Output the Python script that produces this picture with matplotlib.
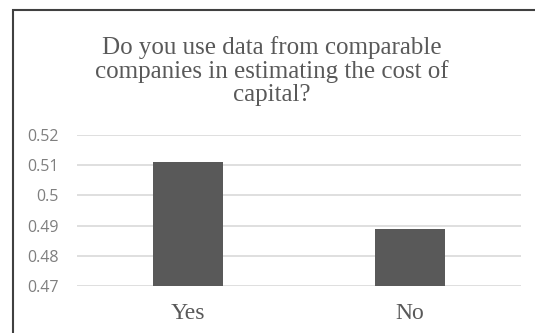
import matplotlib.pyplot as plt
from matplotlib.patches import Rectangle

categories = ["Yes", "No"]
shares = [0.511, 0.489]
y_ticks = [0.47, 0.48, 0.49, 0.50, 0.51, 0.52]
y_labels = ["0.47", "0.48", "0.49", "0.5", "0.51", "0.52"]

W, H = 535, 333
fig = plt.figure(figsize=(W / 100, H / 100), dpi=100)
ax = fig.add_axes([77 / W, (H - 286) / H, (521 - 77) / W, (286 - 135) / H])

x = range(len(categories))
ax.bar(x, shares, width=0.315, color="#595959", zorder=3)

ax.set_xlim(-0.5, 1.5)
ax.set_ylim(0.47, 0.52)
ax.set_yticks(y_ticks)
ax.set_yticklabels(y_labels, fontsize=11.5, color="#7f7f7f", family="Open Sans")
ax.set_xticks(list(x))
ax.set_xticklabels(categories, fontsize=17, color="#595959", family="Liberation Serif")
ax.tick_params(axis="y", length=0, pad=13)
ax.tick_params(axis="x", length=0, pad=12)

ax.grid(axis="y", color="#d9d9d9", linewidth=1.2, zorder=0)
ax.set_axisbelow(True)
for s in ax.spines.values():
    s.set_visible(False)

fig.text(272 / W, 1 - 71 / H,
         "Do you use data from comparable\ncompanies in estimating the cost of\ncapital?",
         ha="center", va="center", fontsize=18, color="#595959",
         family="Liberation Serif", linespacing=1.08)

# outer frame, open to the right and bottom edges
fig.patches.append(Rectangle((13 / W, -0.1), 1.2, 1 - 10 / H + 0.1,
                             transform=fig.transFigure, fill=False,
                             edgecolor="#404040", linewidth=1.5))

fig.savefig("out.png", dpi=100)
